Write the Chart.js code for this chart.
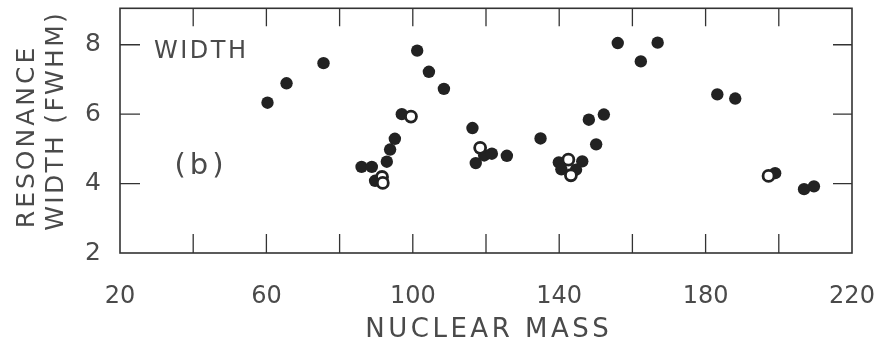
<!DOCTYPE html>
<html>
<head>
<meta charset="utf-8">
<script src="https://cdn.jsdelivr.net/npm/chart.js@4"></script>
<style>
  html, body { margin: 0; padding: 0; background: #fff; }
  #wrap { width: 881px; height: 347px; }
</style>
</head>
<body>
<div id="wrap"><canvas id="chartWidth"></canvas></div>
<script>
/* =========================
  Data
========================= */
const massFilled = [60.3, 65.5, 75.6, 86.0, 88.8, 89.7, 92.9, 93.8, 95.1, 97.0,
  101.2, 104.4, 108.5, 116.3, 117.2, 119.5, 121.6, 125.7, 134.9, 139.9,
  140.6, 144.6, 146.3, 148.1, 150.1, 152.2, 156.0, 162.3, 166.9, 183.2,
  188.1, 199.0, 206.9, 209.6];
const widthFilled = [6.33, 6.89, 7.47, 4.48, 4.48, 4.08, 4.63, 4.98, 5.29, 6.0,
  7.83, 7.22, 6.73, 5.6, 4.59, 4.81, 4.86, 4.8, 5.3, 4.61,
  4.41, 4.4, 4.64, 5.84, 5.13, 5.99, 8.05, 7.52, 8.06, 6.57,
  6.45, 4.3, 3.84, 3.92];

const massOpen = [91.6, 91.8, 99.5, 118.4, 142.5, 143.2, 197.2];
const widthOpen = [4.19, 4.02, 5.93, 5.03, 4.69, 4.24, 4.22];

const xTickLabels = [20, 60, 100, 140, 180, 220];
const xTickMarks = [40, 60, 80, 100, 120, 140, 160, 180, 200];
const yTickLabels = [2, 4, 6, 8];
const yTickMarks = [4, 6, 8];

const ink = "#222";
const textInk = "#4a4a4a";
const fontFamily = "'DejaVu Sans', sans-serif";

/* =========================
  Helper
========================= */
function toPoints(xs, ys) {
  return xs.map((x, i) => ({ x, y: ys[i] }));
}

function spacedText(ctx, text, x, y, size, spacing, angle) {
  ctx.save();
  ctx.translate(x, y);
  if (angle) ctx.rotate(angle);
  ctx.font = size + "px " + fontFamily;
  ctx.fillStyle = textInk;
  ctx.letterSpacing = spacing + "px";
  ctx.textAlign = "center";
  ctx.textBaseline = "middle";
  ctx.fillText(text, spacing / 2, 0);
  ctx.restore();
}

/* =========================
  Frame, inward ticks, labels
========================= */
const framePlugin = {
  id: "frame",
  afterDraw(chart) {
    const { ctx, chartArea: a, scales } = chart;
    ctx.save();
    ctx.strokeStyle = "#333";
    ctx.lineWidth = 1.6;
    ctx.strokeRect(a.left, a.top, a.right - a.left, a.bottom - a.top);

    ctx.lineWidth = 1.3;
    ctx.beginPath();
    xTickMarks.forEach(v => {
      const px = scales.x.getPixelForValue(v);
      ctx.moveTo(px, a.bottom); ctx.lineTo(px, a.bottom - 19);
      ctx.moveTo(px, a.top); ctx.lineTo(px, a.top + 18);
    });
    yTickMarks.forEach(v => {
      const py = scales.y.getPixelForValue(v);
      ctx.moveTo(a.left, py); ctx.lineTo(a.left + 20, py);
      ctx.moveTo(a.right, py); ctx.lineTo(a.right - 19, py);
    });
    ctx.stroke();
    ctx.restore();

    spacedText(ctx, "RESONANCE", 27, 138, 25, 3, -Math.PI / 2);
    spacedText(ctx, "WIDTH (FWHM)", 56, 122, 25, 2.3, -Math.PI / 2);
    spacedText(ctx, "NUCLEAR MASS", 487, 330, 26, 3.5, 0);
    spacedText(ctx, "WIDTH", 200, 52, 24, 2.5, 0);
    spacedText(ctx, "(b)", 199, 166, 29, 4, 0);
  }
};

/* =========================
  Render Chart
========================= */
new Chart(document.getElementById("chartWidth"), {
  type: "scatter",
  data: {
    datasets: [
      {
        label: "open",
        data: toPoints(massOpen, widthOpen),
        pointRadius: 5.5,
        pointBackgroundColor: "#fff",
        pointBorderColor: ink,
        pointBorderWidth: 2.8,
        order: 0
      },
      {
        label: "width",
        data: toPoints(massFilled, widthFilled),
        pointRadius: 6.2,
        pointBackgroundColor: ink,
        pointBorderColor: ink,
        pointBorderWidth: 0,
        order: 1
      }
    ]
  },
  options: {
    responsive: true,
    maintainAspectRatio: false,
    animation: false,
    events: [],
    layout: { padding: { top: 7, right: 29, left: 0, bottom: 0 } },
    plugins: {
      legend: { display: false },
      tooltip: { enabled: false }
    },
    scales: {
      x: {
        type: "linear",
        min: 20,
        max: 220,
        grid: { display: false, drawTicks: false },
        border: { display: false },
        afterFit: s => {
          s.height = 94;
          s.paddingLeft = 0;
          s.paddingRight = 0;
        },
        afterBuildTicks: s => { s.ticks = xTickLabels.map(v => ({ value: v })); },
        ticks: {
          padding: 29,
          maxRotation: 0,
          color: textInk,
          font: { family: fontFamily, size: 24 }
        }
      },
      y: {
        type: "linear",
        min: 2,
        max: 9.05,
        grid: { display: false, drawTicks: false },
        border: { display: false },
        afterFit: s => {
          s.width = 120;
          s.paddingTop = 0;
          s.paddingBottom = 0;
        },
        afterBuildTicks: s => { s.ticks = yTickLabels.map(v => ({ value: v })); },
        ticks: {
          padding: 19,
          color: textInk,
          font: { family: fontFamily, size: 25 }
        }
      }
    }
  },
  plugins: [framePlugin]
});
</script>
</body>
</html>
